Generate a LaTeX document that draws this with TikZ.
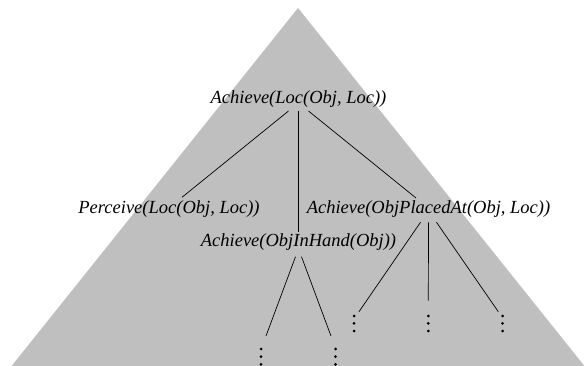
\documentclass[tikz,border=0pt]{standalone}
\usepackage{fontspec}
\setmainfont{Liberation Serif}
\begin{document}
\begin{tikzpicture}[x=1pt,y=-1pt,
  lbl/.style={font=\fontsize{18.5}{22}\selectfont\itshape, anchor=base, inner sep=0pt},
  dotc/.style={circle, fill=black, inner sep=0pt, minimum size=3pt},
  edge/.style={draw=black, line width=0.7pt}]
\useasboundingbox (0,0) rectangle (584,366);
\begin{scope}
\clip (0,0) rectangle (584,366);
\fill[black!25] (298,8) -- (2,378) -- (594,378) -- cycle;
\end{scope}
\node[lbl] (root) at (298.5,104) {Achieve(Loc(Obj, Loc))};
\node[lbl] (pe) at (169,213.3) {Perceive(Loc(Obj, Loc))};
\node[lbl] (pa) at (428.5,213.3) {Achieve(ObjPlacedAt(Obj, Loc))};
\node[lbl] (ih) at (298.5,246.7) {Achieve(ObjInHand(Obj))};
% dots under ObjPlacedAt
\foreach \n/\x in {a/354,b/428.3,c/502.5}{
  \node[dotc] (\n1) at (\x,316) {};
  \node[dotc] (\n2) at (\x,323.4) {};
  \node[dotc] (\n3) at (\x,331) {};
}
% dots under ObjInHand
\foreach \n/\x in {d/261,e/335.5}{
  \node[dotc] (\n1) at (\x,349) {};
  \node[dotc] (\n2) at (\x,356.7) {};
  \node[dotc] (\n3) at (\x,364.3) {};
}
\draw[edge] ([shift={(-10pt,-7pt)}]root.base) -- ([shift={(13pt,16pt)}]pe.base);
\draw[edge] ([shift={(0pt,-7pt)}]root.base) -- ([shift={(0pt,14.7pt)}]ih.base);
\draw[edge] ([shift={(10pt,-7pt)}]root.base) -- ([shift={(-12.5pt,15.3pt)}]pa.base);
\draw[edge] ([shift={(-8pt,-9pt)}]pa.base) -- ([shift={(5pt,4.3pt)}]a1.center);
\draw[edge] ([shift={(0pt,-9pt)}]pa.base) -- ([shift={(0pt,15.3pt)}]b1.center);
\draw[edge] ([shift={(8pt,-9pt)}]pa.base) -- ([shift={(-4.2pt,4.3pt)}]c1.center);
\draw[edge] ([shift={(-3pt,-10pt)}]ih.base) -- ([shift={(5pt,13pt)}]d1.center);
\draw[edge] ([shift={(3pt,-10pt)}]ih.base) -- ([shift={(-4.5pt,13pt)}]e1.center);
\end{tikzpicture}
\end{document}
